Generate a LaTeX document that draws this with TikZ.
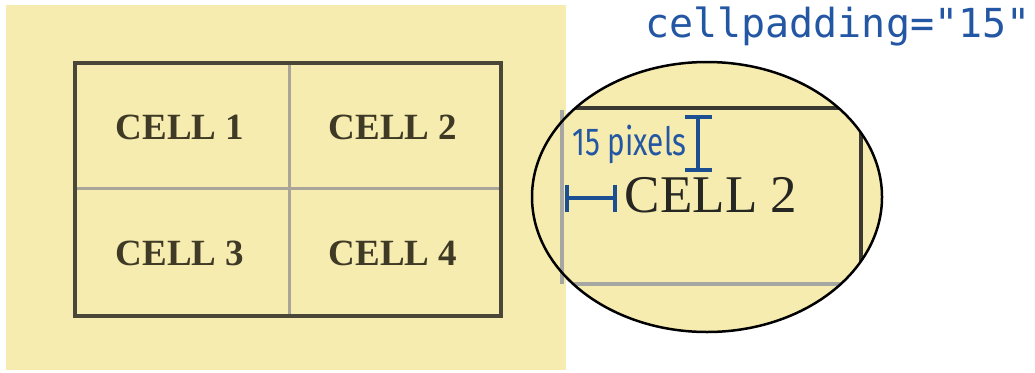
\documentclass[tikz,border=0pt]{standalone}
\usepackage{fontspec}
\setmainfont{Liberation Serif}
\newfontfamily\monof{DejaVu Sans Mono}
\newfontfamily\narrowf[FakeStretch=0.76]{Fira Sans}
\usetikzlibrary{arrows.meta}
\definecolor{bgyellow}{HTML}{F7ECB0}
\definecolor{darkline}{HTML}{4A4638}
\definecolor{greyline}{HTML}{A9A598}
\definecolor{zoomdark}{HTML}{3A3A32}
\definecolor{zoomgrey}{HTML}{A6A6A2}
\definecolor{celltxt}{HTML}{3F3A25}
\definecolor{bigtxt}{HTML}{262622}
\definecolor{markblue}{HTML}{1C4E92}
\definecolor{labelblue}{HTML}{2457A3}
\begin{document}
\begin{tikzpicture}[x=1pt,y=-1pt,
  cellstyle/.style={font=\bfseries\fontsize{37}{43}\selectfont, text=celltxt, inner sep=0pt, anchor=base},
  outerline/.style={draw=darkline, line width=3.5pt},
  innerline/.style={draw=greyline, line width=3pt},
  zdark/.style={draw=zoomdark, line width=4pt},
  zgrey/.style={draw=zoomgrey, line width=4pt},
  marker/.style={draw=markblue, line width=4pt, {Bar[width=27pt]}-{Bar[width=27pt]}},
  bluelabel/.style={text=labelblue, inner sep=0pt, anchor=base west}
]
\useasboundingbox (0,0) rectangle (1035,372);
% background panel
\fill[bgyellow] (6,5) rectangle (566,370);
% table
\draw[innerline] (289,63) -- (289,316);
\draw[innerline] (75,188) -- (501,188);
\draw[outerline] (75,63) rectangle (501,316);
\node[cellstyle] (c1) at (180,139) {CELL 1};
\node[cellstyle] (c2) at (393,139) {CELL 2};
\node[cellstyle] (c3) at (180,265) {CELL 3};
\node[cellstyle] (c4) at (393,265) {CELL 4};
% magnifier
\fill[bgyellow] (707,197) ellipse [x radius=175pt, y radius=135pt];
\begin{scope}
  \clip (707,197) ellipse [x radius=175pt, y radius=135pt];
  \draw[zgrey] (562,284) -- (900,284);
  \draw[zdark] (555,108) -- (900,108);
  \draw[zdark] (861,90) -- (861,300);
\end{scope}
\draw[zgrey] (562,110) -- (562,284);
\draw[black, line width=2.5pt] (707,197) ellipse [x radius=175pt, y radius=135pt];
\node[font=\fontsize{53}{60}\selectfont, text=bigtxt, inner sep=0pt, anchor=base] (big) at (711,212) {CELL 2};
% padding markers
\coordinate (vtop) at (698,115);
\coordinate (vbot) at (698,172);
\draw[marker] (vtop) -- (vbot);
\coordinate (hleft) at (565,198);
\coordinate (hright) at (617,198);
\draw[marker] (hleft) -- (hright);
\node[bluelabel, font=\narrowf\fontsize{39}{45}\selectfont] (px) at (572,155) {15 pixels};
\node[bluelabel, font=\monof\fontsize{40}{46}\selectfont] (cp) at (645,37) {cellpadding="15"};
\end{tikzpicture}
\end{document}
